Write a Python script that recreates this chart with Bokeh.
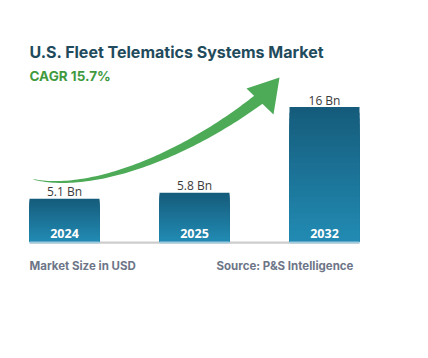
import numpy as np
from bokeh.plotting import figure
from bokeh.models import Range1d, Label, ColumnDataSource
from bokeh.core.properties import value
from bokeh.embed import file_html
from bokeh.resources import INLINE

# ---- data ----
years = ["2024", "2025", "2032"]
market_size = [5.1, 5.8, 16.0]
value_labels = ["5.1 Bn", "5.8 Bn", "16 Bn"]
title_text = "U.S. Fleet Telematics Systems Market"
cagr_text = "CAGR 15.7%"
footer_left = "Market Size in USD"
footer_right = "Source: P&S Intelligence"

# ---- layout ----
W, H = 412, 342
SPACING = 130.0      # px between bar centres
KY = 8.4             # px per unit
CX0 = 64.0           # canvas x of first bar centre
CY0 = 241.0          # canvas y of baseline
x0 = -CX0 / SPACING
x1 = (W - CX0) / SPACING
y0 = -(H - CY0) / KY
y1 = CY0 / KY


def to_data(X, Y):
    """picture pixel -> data coordinates"""
    cx = np.asarray(X, float)
    cy = np.asarray(Y, float)
    return x0 + cx / SPACING, y1 - cy / KY


p = figure(width=W, height=H, x_range=Range1d(x0, x1), y_range=Range1d(y0, y1),
           output_backend="svg", toolbar_location=None, min_border=0,
           x_axis_type=None, y_axis_type=None)
p.grid.visible = False
p.outline_line_color = None
p.background_fill_color = "white"
p.border_fill_color = "white"

n = len(years)
xs = np.arange(n, dtype=float)
bw = 70.0 / SPACING
vals = np.array(market_size)

# baseline
p.quad(left=[xs[0] - bw / 2], right=[xs[-1] + bw / 2], bottom=[-2.2 / KY], top=[0.0],
       fill_color="#cdcdcd", line_color=None)

# bars with vertical gradient (layered)
top_c = np.array([0x15, 0x5c, 0x7c])
bot_c = np.array([0x22, 0x8a, 0xb2])
N = 24
for j in range(N):
    frac = 1 - j / N
    c = top_c + (bot_c - top_c) * (j / (N - 1))
    col = "#%02x%02x%02x" % tuple(int(round(v)) for v in c)
    p.vbar(x=xs, width=bw, bottom=0, top=vals * frac, fill_color=col, line_color=None)
# light strip at bar bottoms
p.quad(left=xs - bw / 2, right=xs + bw / 2, bottom=[-2.0 / KY] * n, top=[0.0] * n,
       fill_color="#9fcbe0", line_color=None)

src = ColumnDataSource(dict(x=xs, y=vals, lab=value_labels, yr=years, zero=[0.0] * n))
p.text(x="x", y="y", text="lab", source=src, y_offset=-7, text_align="center",
       text_baseline="alphabetic", text_font=value("Open Sans"), text_font_size="12px",
       text_color="#3a3a3a")
p.text(x="x", y="zero", text="yr", source=src, y_offset=-8, text_align="center",
       text_baseline="alphabetic", text_font=value("Open Sans"), text_font_size="12.5px",
       text_font_style="bold", text_color="white")

# ---- decorative growth arrow ----
P0, P1, P2, P3 = map(np.array, [(33, 179), (95, 192), (190, 152), (262, 96)])
t = np.linspace(0, 1, 80)[:, None]
pts = ((1 - t) ** 3) * P0 + 3 * ((1 - t) ** 2) * t * P1 + 3 * (1 - t) * t ** 2 * P2 + t ** 3 * P3
d = (-3 * (1 - t) ** 2) * P0 + 3 * ((1 - t) ** 2 - 2 * t * (1 - t)) * P1 + 3 * (2 * t * (1 - t) - t ** 2) * P2 + 3 * t ** 2 * P3
d = d / np.linalg.norm(d, axis=1)[:, None]
nrm = np.column_stack([-d[:, 1], d[:, 0]])
w = (0.6 + 11.0 * t[:, 0] ** 1.05) / 2
upper = pts - nrm * w[:, None]
lower = pts + nrm * w[:, None]
outline = np.vstack([upper, lower[::-1]])
ax, ay = to_data(outline[:, 0], outline[:, 1])
p.patch(ax, ay, fill_color="#4dab58", line_color=None)
hx, hy = to_data([279, 246, 273], [77, 88, 114])
p.patch(hx, hy, fill_color="#4dab58", line_color=None)

# ---- texts ----
def add_label(X, Y, text, size, color, font="Inter", style="bold", align="left"):
    lx, ly = to_data(X, Y)
    p.add_layout(Label(x=float(lx), y=float(ly), text=text, text_font=font,
                       text_font_size=size, text_color=color, text_font_style=style,
                       text_align=align, text_baseline="alphabetic"))

add_label(29, 51, title_text, "16px", "#1f4b5c")
add_label(29, 75, cagr_text, "13.5px", "#3f9a3f")
add_label(29, 265, footer_left, "11.5px", "#6d7588")
add_label(216, 265, footer_right, "11.5px", "#6d7588")

open("out.html", "w").write(file_html(p, INLINE))
